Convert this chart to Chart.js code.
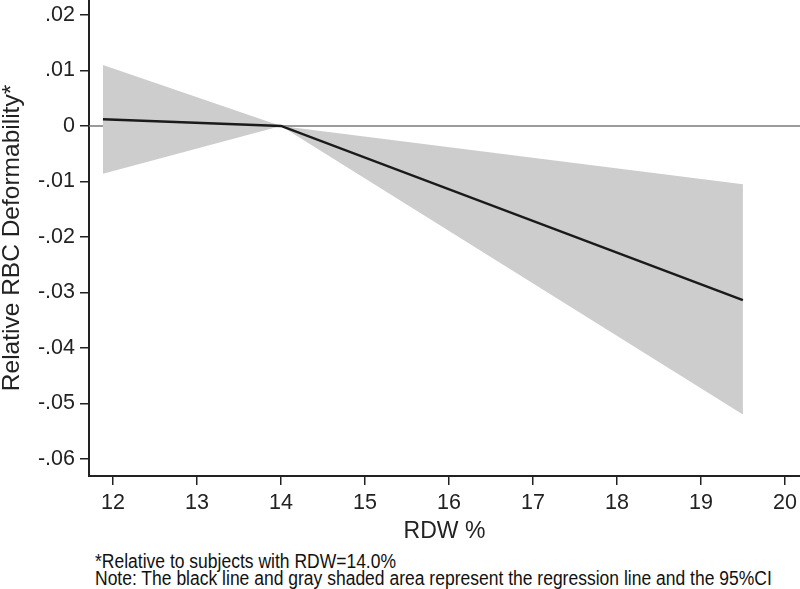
<!DOCTYPE html>
<html>
<head>
<meta charset="utf-8">
<script src="https://cdn.jsdelivr.net/npm/chart.js@4.4.1/dist/chart.umd.min.js"></script>
<style>
  body { margin: 0; background: #fff; }
  #wrap { position: relative; width: 800px; height: 589px; }
  #chart { position: absolute; left: 0; top: 0; }
  .note { position: absolute; left: 95px; font-family: "Liberation Sans", Arial, sans-serif; font-size: 17.5px; line-height: 17px; color: #111; white-space: nowrap; transform: scaleY(1.12); transform-origin: 0 50%; }
</style>
</head>
<body>
<div id="wrap">
  <canvas id="chart" width="800" height="545"></canvas>
  <div class="note" style="top:553px">*Relative to subjects with RDW=14.0%</div>
  <div class="note" style="top:570px">Note: The black line and gray shaded area represent the regression line and the 95%CI</div>
</div>
<script>
// RDW % et valeurs
var rdw = [11.88, 14.0, 19.5];
var fitLine = [0.0012, 0, -0.0314];
var ciUpper = [0.011, 0, -0.0105];
var ciLower = [-0.0086, 0, -0.052];

var xTicks = [12, 13, 14, 15, 16, 17, 18, 19, 20];
var yTicks = [0.02, 0.01, 0, -0.01, -0.02, -0.03, -0.04, -0.05, -0.06];
var xRange = [11.714, 20.18];
var yRange = [-0.0631, 0.0227];

function toPoints(xs, ys) {
  return xs.map(function (x, i) { return { x: x, y: ys[i] }; });
}

function fmtY(v) {
  if (Math.abs(v) < 1e-9) return '0';
  var s = Math.abs(v).toFixed(2).replace(/^0/, '');
  return (v < 0 ? '-' : '') + s;
}

var font = "'Liberation Sans', Arial, sans-serif";

var ctx = document.getElementById('chart').getContext('2d');
new Chart(ctx, {
  type: 'line',
  data: {
    datasets: [
      {
        label: 'zero',
        data: toPoints(xRange, [0, 0]),
        borderColor: '#7a7a7a',
        borderWidth: 1.5,
        pointRadius: 0,
        fill: false,
        order: 10
      },
      {
        label: 'upper',
        data: toPoints(rdw, ciUpper),
        borderWidth: 0,
        borderColor: 'rgba(0,0,0,0)',
        backgroundColor: '#cdcdcd',
        pointRadius: 0,
        fill: '+1',
        order: 5
      },
      {
        label: 'lower',
        data: toPoints(rdw, ciLower),
        borderWidth: 0,
        borderColor: 'rgba(0,0,0,0)',
        pointRadius: 0,
        fill: false,
        order: 4
      },
      {
        label: 'fit',
        data: toPoints(rdw, fitLine),
        borderColor: '#1a1a1a',
        borderWidth: 2.5,
        pointRadius: 0,
        fill: false,
        order: 1
      }
    ]
  },
  options: {
    responsive: false,
    animation: false,
    devicePixelRatio: 1,
    layout: { padding: 0 },
    plugins: { legend: { display: false }, tooltip: { enabled: false } },
    scales: {
      x: {
        type: 'linear',
        min: xRange[0],
        max: xRange[1],
        afterBuildTicks: function (scale) {
          scale.ticks = xTicks.map(function (v) { return { value: v }; });
        },
        afterFit: function (scale) {
          scale.height = 69;
          scale.paddingLeft = 0;
          scale.paddingRight = 0;
        },
        grid: { display: true, drawOnChartArea: false, drawTicks: true, tickLength: 9, color: '#222', lineWidth: 1.5 },
        border: { display: true, color: '#222', width: 2 },
        ticks: { color: '#222', font: { family: font, size: 21.5 }, padding: 5, maxRotation: 0, autoSkip: false },
        title: { display: true, text: 'RDW %', color: '#222', font: { family: font, size: 23, lineHeight: 1 }, padding: { top: 0, bottom: 2 } }
      },
      y: {
        type: 'linear',
        min: yRange[0],
        max: yRange[1],
        afterBuildTicks: function (scale) {
          scale.ticks = yTicks.map(function (v) { return { value: v }; });
        },
        afterFit: function (scale) {
          scale.width = 89;
          scale.paddingTop = 0;
          scale.paddingBottom = 0;
        },
        grid: { display: true, drawOnChartArea: false, drawTicks: true, tickLength: 9, color: '#222', lineWidth: 1.5 },
        border: { display: true, color: '#222', width: 2 },
        ticks: { color: '#222', font: { family: font, size: 21.5 }, padding: 5, autoSkip: false, callback: function (v) { return fmtY(v); } },
        title: { display: true, text: 'Relative RBC Deformability*', color: '#222', font: { family: font, size: 24.5, lineHeight: 1 }, padding: { top: 0, bottom: 0 } }
      }
    }
  }
});
</script>
</body>
</html>
